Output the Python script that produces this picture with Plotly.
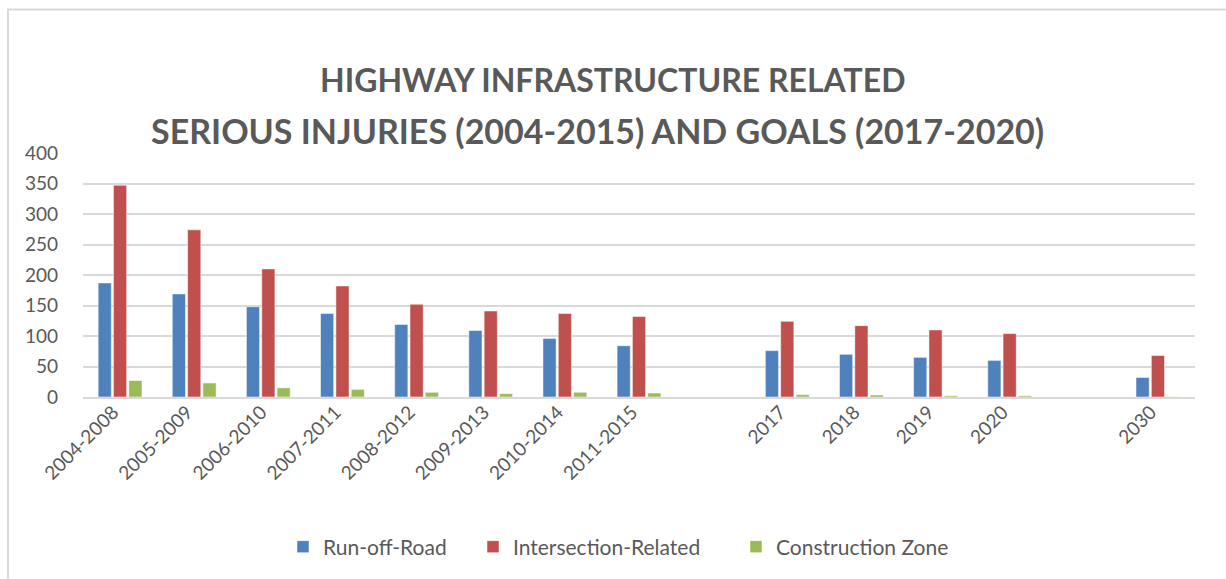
import plotly.graph_objects as go

categories = ["2004-2008", "2005-2009", "2006-2010", "2007-2011", "2008-2012",
              "2009-2013", "2010-2014", "2011-2015", " ", "2017", "2018", "2019",
              "2020", "  ", "2030"]
run_off_road = [187, 169, 148, 137, 119, 109, 96, 84, None, 76, 70, 65, 60, None, 32]
intersection = [347, 274, 210, 182, 152, 141, 137, 132, None, 124, 117, 110, 104, None, 68]
construction = [27, 23, 15, 12.5, 7.7, 5.5, 7.7, 6.5, None, 3.8, 3.3, 2, 2, None, 0.5]

series_names = ["Run-off-Road", "Intersection-Related", "Construction Zone"]
colors = ["#4F81BD", "#C0504D", "#9BBB59"]
title_lines = ["HIGHWAY INFRASTRUCTURE RELATED",
               "SERIOUS INJURIES (2004-2015) AND GOALS (2017-2020)"]

W, H = 1226, 579
ML, MR, MT, MB = 83, 31, 153, 182
PW, PH = W - ML - MR, H - MT - MB

def px_x(px):
    return (px - ML) / PW

def px_y(py):
    return (H - MB - py) / PH

font_family = "Lato, 'Open Sans', sans-serif"
gray = "#595959"

legend_ids = ["legend", "legend2", "legend3"]
legend_left_px = [283, 473, 736]

fig = go.Figure()
for name, vals, col, lid in zip(series_names, [run_off_road, intersection, construction],
                                colors, legend_ids):
    fig.add_trace(go.Bar(
        name=name, x=categories, y=vals, legend=lid,
        marker=dict(color=col, line=dict(color="rgba(255,255,255,0.5)", width=1)),
    ))

legend_common = dict(orientation="h", xref="container", yref="container",
                     xanchor="left", y=1 - 547 / H, yanchor="middle",
                     font=dict(size=21, color=gray), itemwidth=30,
                     bgcolor="rgba(0,0,0,0)")

fig.update_layout(
    width=W, height=H,
    margin=dict(l=ML, r=MR, t=MT, b=MB, autoexpand=False),
    paper_bgcolor="white", plot_bgcolor="white",
    barmode="group", bargap=0.38, bargroupgap=0.14,
    font=dict(family=font_family, color=gray, size=19),
    showlegend=True,
    legend=dict(x=legend_left_px[0] / W, **legend_common),
    legend2=dict(x=legend_left_px[1] / W, **legend_common),
    legend3=dict(x=legend_left_px[2] / W, **legend_common),
    xaxis=dict(type="category", tickangle=-45, showgrid=False, automargin=False,
               showline=True, linecolor="#d9d9d9", linewidth=1.5,
               ticks="", tickfont=dict(size=19, color=gray),
               ticklabelshift=-7, ticklabelstandoff=-5,
               range=[-0.5, len(categories) - 0.5]),
    yaxis=dict(range=[0, 400], dtick=50, showgrid=True, gridcolor="#d9d9d9",
               gridwidth=1.5, zeroline=False, ticks="", automargin=False,
               tickfont=dict(size=19, color=gray), ticklabelstandoff=24),
)

# Title as two annotations to match line spacing
for text, cx, cy, fs in zip(title_lines, [613, 597], [79, 130], [32, 34]):
    fig.add_annotation(text="<b>" + text + "</b>", xref="paper", yref="paper",
                       x=px_x(cx), y=px_y(cy), xanchor="center", yanchor="middle",
                       showarrow=False, font=dict(size=fs, color=gray, family=font_family))

# Chart frame lines (left and top)
fig.add_shape(type="line", xref="paper", yref="paper",
              x0=px_x(8), x1=px_x(8), y0=px_y(H + 5), y1=px_y(9.5),
              line=dict(color="#d9d9d9", width=2))
fig.add_shape(type="line", xref="paper", yref="paper",
              x0=px_x(7), x1=px_x(W + 5), y0=px_y(9.5), y1=px_y(9.5),
              line=dict(color="#d9d9d9", width=2))

fig.write_html("out.html", config={"displayModeBar": False},
               post_script="document.body.style.margin='0';document.body.style.overflow='hidden';")
